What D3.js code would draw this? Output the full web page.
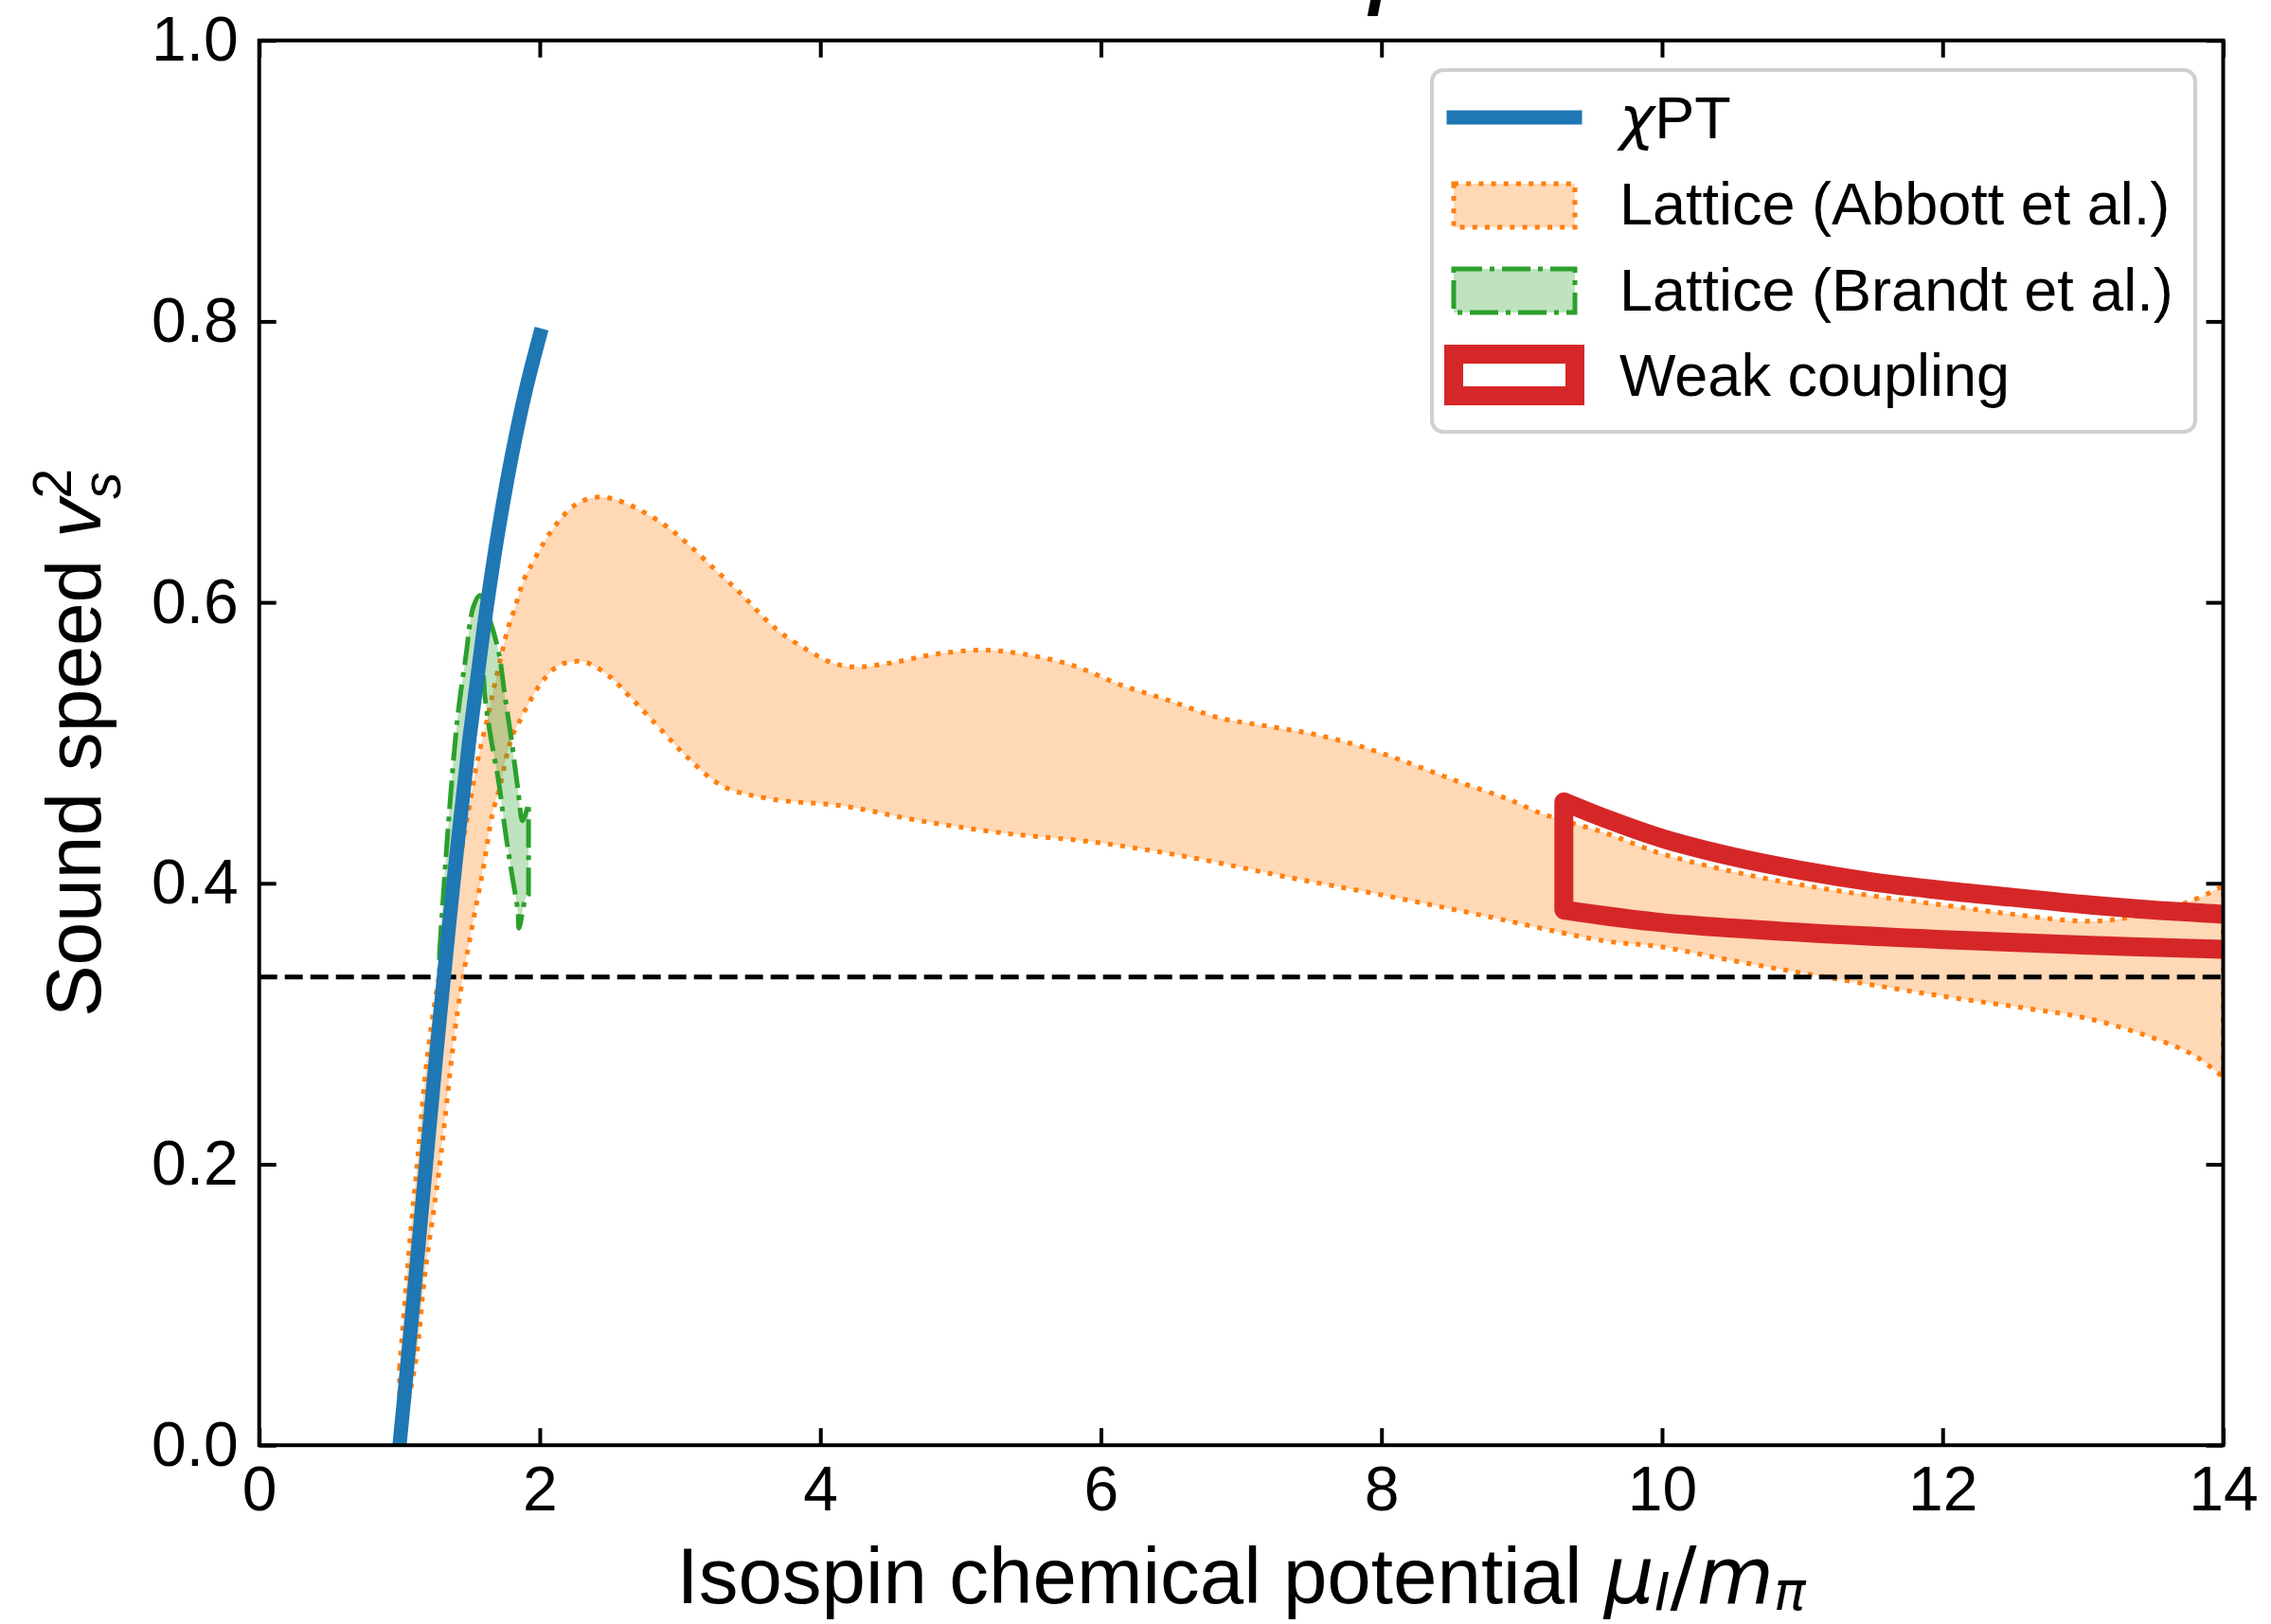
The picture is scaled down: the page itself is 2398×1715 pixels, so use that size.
<!DOCTYPE html>
<html>
<head>
<meta charset="utf-8">
<script src="https://cdn.jsdelivr.net/npm/d3@7"></script>
<style>
  html, body { margin: 0; padding: 0; background: #ffffff; }
  svg { display: block; }
  text { font-family: "Liberation Sans", Arial, Helvetica, sans-serif; fill: #000; }
</style>
</head>
<body>
<svg id="chart" width="2398" height="1715"></svg>
<script>
// ---------------- DATA ----------------
const xTickValues = [0, 2, 4, 6, 8, 10, 12, 14];
const xTickLabels = ["0", "2", "4", "6", "8", "10", "12", "14"];
const yTickValues = [0, 0.2, 0.4, 0.6, 0.8, 1.0];
const yTickLabels = ["0.0", "0.2", "0.4", "0.6", "0.8", "1.0"];

const legendLabels = ["χPT", "Lattice (Abbott et al.)", "Lattice (Brandt et al.)", "Weak coupling"];

// chiral perturbation theory curve
const chiPT_x = [1.0, 1.05, 1.1, 1.15, 1.2, 1.25, 1.3, 1.4, 1.5, 1.6, 1.7, 1.8, 1.9, 2.0];
const chiPT_y = [0.0, 0.051, 0.104, 0.158, 0.212, 0.265, 0.317, 0.415, 0.504, 0.581, 0.648, 0.704, 0.751, 0.790];

// Lattice (Abbott et al.) band
const abbottUpper_x = [1.0, 1.01, 1.077, 1.122, 1.201, 1.30, 1.40, 1.493, 1.538, 1.58, 1.628, 1.673, 1.73, 1.775, 1.819, 1.886, 1.932, 2.07, 2.2, 2.3, 2.436, 2.6, 2.877, 3.05, 3.264, 3.436, 3.608, 3.737, 3.909, 4.082, 4.253, 4.511, 4.813, 5.157, 5.459, 5.803, 6.147, 6.491, 6.835, 7.18, 7.524, 7.868, 8.212, 8.557, 8.9, 9.16, 9.59, 10.0, 10.66, 11.3, 12.04, 12.5, 13.04, 13.4, 13.76, 14.0];
const abbottUpper_y = [0.055, 0.067, 0.149, 0.196, 0.279, 0.345, 0.400, 0.452, 0.478, 0.498, 0.518, 0.539, 0.564, 0.582, 0.595, 0.616, 0.625, 0.649, 0.665, 0.672, 0.675, 0.671, 0.656, 0.642, 0.622, 0.606, 0.588, 0.577, 0.566, 0.557, 0.554, 0.557, 0.563, 0.566, 0.563, 0.555, 0.541, 0.530, 0.518, 0.512, 0.506, 0.497, 0.485, 0.472, 0.460, 0.449, 0.436, 0.421, 0.405, 0.394, 0.384, 0.378, 0.373, 0.377, 0.387, 0.398];
const abbottLower_x = [1.0, 1.06, 1.122, 1.178, 1.28, 1.414, 1.51, 1.594, 1.662, 1.716, 1.797, 1.864, 1.932, 2.02, 2.135, 2.247, 2.337, 2.5, 2.65, 2.877, 3.049, 3.307, 3.651, 4.167, 4.684, 5.285, 5.976, 6.663, 7.35, 8.039, 8.727, 9.59, 9.98, 10.5, 11.18, 12.04, 12.6, 13.07, 13.58, 13.8, 14.0];
const abbottLower_y = [0.0, 0.03, 0.064, 0.119, 0.194, 0.309, 0.365, 0.409, 0.449, 0.469, 0.503, 0.517, 0.530, 0.544, 0.555, 0.558, 0.557, 0.547, 0.532, 0.508, 0.490, 0.469, 0.460, 0.455, 0.445, 0.436, 0.429, 0.418, 0.404, 0.391, 0.377, 0.359, 0.355, 0.345, 0.333, 0.319, 0.311, 0.303, 0.287, 0.277, 0.262];

// Lattice (Brandt et al.) band
const brandtUpper_x = [1.285, 1.345, 1.412, 1.473, 1.527, 1.574, 1.649, 1.709, 1.750, 1.797, 1.844, 1.878, 1.92];
const brandtUpper_y = [0.350, 0.4375, 0.516, 0.5615, 0.597, 0.605, 0.586, 0.5635, 0.5345, 0.503, 0.467, 0.4445, 0.457];
const brandtLower_x = [1.285, 1.35, 1.42, 1.48, 1.53, 1.565, 1.59, 1.61, 1.649, 1.709, 1.750, 1.797, 1.844, 1.852, 1.898, 1.92];
const brandtLower_y = [0.300, 0.365, 0.435, 0.490, 0.540, 0.562, 0.555, 0.532, 0.505, 0.471, 0.440, 0.409, 0.380, 0.368, 0.389, 0.392];

// Weak coupling band
const weakUpper_x = [9.3, 9.6, 10.0, 10.5, 11.0, 11.5, 12.0, 12.5, 13.0, 13.5, 14.0, 14.5];
const weakUpper_y = [0.458, 0.446, 0.432, 0.419, 0.409, 0.401, 0.395, 0.390, 0.385, 0.381, 0.378, 0.375];
const weakLower_x = [9.3, 10.0, 11.0, 12.0, 13.0, 14.0, 14.5];
const weakLower_y = [0.381, 0.372, 0.365, 0.360, 0.356, 0.353, 0.352];

const conformalValue = 1 / 3;

// ---------------- LAYOUT ----------------
(function () {
const svg = d3.select("#chart");
const W = 2398, H = 1715;
const pL = 273.7, pR = 2347.5, pT = 42.7, pB = 1526.2;

svg.append("rect").attr("width", W).attr("height", H).attr("fill", "#ffffff");

const x = d3.scaleLinear().domain([0, 14]).range([pL, pR]);
const y = d3.scaleLinear().domain([0, 1]).range([pB, pT]);

const C_BLUE = "#1f77b4", C_ORANGE = "#ff7f0e", C_GREEN = "#2ca02c", C_RED = "#d62728";
const MATH = "'DejaVu Sans', Verdana, sans-serif";

svg.append("clipPath").attr("id", "plotclip")
  .append("rect").attr("x", pL).attr("y", pT).attr("width", pR - pL).attr("height", pB - pT);

const plot = svg.append("g").attr("clip-path", "url(#plotclip)");

const zip = (xs, ys) => xs.map((v, i) => [v, ys[i]]);
const lineGen = d3.line().x(d => x(d[0])).y(d => y(d[1])).curve(d3.curveCatmullRom.alpha(0.5));
function bandPath(ux, uy, lx, ly) {
  const up = lineGen(zip(ux, uy));
  const lo = lineGen(zip(lx, ly).reverse());
  return up + "L" + lo.slice(1) + "Z";
}

// Abbott band
plot.append("path")
  .attr("d", bandPath(abbottUpper_x, abbottUpper_y, abbottLower_x, abbottLower_y))
  .attr("fill", C_ORANGE).attr("fill-opacity", 0.3)
  .attr("stroke", C_ORANGE).attr("stroke-width", 5)
  .attr("stroke-dasharray", "5 8.2");

// Brandt band
plot.append("path")
  .attr("d", bandPath(brandtUpper_x, brandtUpper_y, brandtLower_x, brandtLower_y))
  .attr("fill", C_GREEN).attr("fill-opacity", 0.3)
  .attr("stroke", C_GREEN).attr("stroke-width", 5)
  .attr("stroke-dasharray", "30 8 5 8");

// conformal limit line
plot.append("line")
  .attr("x1", x(0)).attr("x2", x(14))
  .attr("y1", y(conformalValue)).attr("y2", y(conformalValue))
  .attr("stroke", "#000").attr("stroke-width", 5)
  .attr("stroke-dasharray", "19 8");

// chiPT line
plot.append("path")
  .attr("d", lineGen(zip(chiPT_x, chiPT_y)))
  .attr("fill", "none").attr("stroke", C_BLUE).attr("stroke-width", 15)
  .attr("stroke-linecap", "square");

// Weak coupling band
plot.append("path")
  .attr("d", bandPath(weakUpper_x, weakUpper_y, weakLower_x, weakLower_y))
  .attr("fill", "none")
  .attr("stroke", C_RED).attr("stroke-width", 20)
  .attr("stroke-linejoin", "round");

// ---------------- AXES ----------------
const TICK = 18;
const fmtX = d => xTickLabels[xTickValues.indexOf(d)];
const fmtY = d => yTickLabels[yTickValues.indexOf(d)];

function styleAxis(g) {
  g.select(".domain").remove();
  g.selectAll(".tick line").attr("stroke", "#000").attr("stroke-width", 4);
  g.selectAll(".tick text").attr("font-size", 66).attr("font-family", "Liberation Sans, Arial, sans-serif").attr("fill", "#000");
}

svg.append("g").attr("transform", `translate(0,${pB})`)
  .call(d3.axisBottom(x).tickValues(xTickValues).tickFormat(fmtX).tickSize(-TICK).tickPadding(22))
  .call(styleAxis);
svg.append("g").attr("transform", `translate(0,${pT})`)
  .call(d3.axisTop(x).tickValues(xTickValues).tickFormat("").tickSize(-TICK))
  .call(styleAxis);
svg.append("g").attr("transform", `translate(${pL},0)`)
  .call(d3.axisLeft(y).tickValues(yTickValues).tickFormat(fmtY).tickSize(-TICK).tickPadding(22))
  .call(styleAxis);
svg.append("g").attr("transform", `translate(${pR},0)`)
  .call(d3.axisRight(y).tickValues(yTickValues).tickFormat("").tickSize(-TICK))
  .call(styleAxis);

// spines
svg.append("rect")
  .attr("x", pL).attr("y", pT).attr("width", pR - pL).attr("height", pB - pT)
  .attr("fill", "none").attr("stroke", "#000").attr("stroke-width", 4);

// axis labels
const xl = svg.append("text")
  .attr("x", (pL + pR) / 2).attr("y", 1693)
  .attr("text-anchor", "middle").attr("font-size", 83.5);
xl.append("tspan").text("Isospin chemical potential ");
xl.append("tspan").attr("font-family", MATH).attr("font-style", "italic").text("μ");
xl.append("tspan").attr("font-family", MATH).attr("font-style", "italic").attr("font-size", 56).attr("dy", 7).text("I");
xl.append("tspan").attr("font-family", MATH).attr("dy", -7).text("/");
xl.append("tspan").attr("font-family", MATH).attr("font-style", "italic").text("m");
xl.append("tspan").attr("font-family", MATH).attr("font-style", "italic").attr("font-size", 56).attr("dy", 7).text("π");

const yl = svg.append("text")
  .attr("transform", `translate(106,${(pT + pB) / 2}) rotate(-90)`)
  .attr("text-anchor", "middle").attr("font-size", 82);
yl.append("tspan").text("Sound speed ");
yl.append("tspan").attr("font-style", "italic").text("v");
yl.append("tspan").attr("font-style", "italic").attr("font-size", 57).attr("dy", 21).text("s");
yl.append("tspan").attr("font-size", 57).attr("dx", -28).attr("dy", -52).text("2");

// clipped title fragment at the very top
svg.append("text")
  .attr("x", 1453).attr("y", 17)
  .attr("text-anchor", "middle")
  .attr("font-family", "Liberation Serif, 'DejaVu Serif', serif")
  .attr("font-style", "italic").attr("font-weight", "bold")
  .attr("font-size", 76).text("I");

// ---------------- LEGEND ----------------
const lg = svg.append("g");
lg.append("rect")
  .attr("x", 1512).attr("y", 74).attr("width", 806).attr("height", 382)
  .attr("rx", 12).attr("ry", 12)
  .attr("fill", "#ffffff").attr("fill-opacity", 0.8)
  .attr("stroke", "#d0d0d0").attr("stroke-width", 4);

const hx0 = 1535, hx1 = 1663, rowBase = [146, 237, 328, 418];
lg.append("line").attr("x1", hx0).attr("x2", hx1)
  .attr("y1", rowBase[0] - 22).attr("y2", rowBase[0] - 22)
  .attr("stroke", C_BLUE).attr("stroke-width", 15).attr("stroke-linecap", "square");
lg.append("rect").attr("x", hx0).attr("y", rowBase[1] - 43).attr("width", hx1 - hx0).attr("height", 46)
  .attr("fill", C_ORANGE).attr("fill-opacity", 0.3)
  .attr("stroke", C_ORANGE).attr("stroke-width", 5).attr("stroke-dasharray", "5 8.2");
lg.append("rect").attr("x", hx0).attr("y", rowBase[2] - 44).attr("width", hx1 - hx0).attr("height", 46)
  .attr("fill", C_GREEN).attr("fill-opacity", 0.3)
  .attr("stroke", C_GREEN).attr("stroke-width", 5).attr("stroke-dasharray", "30 8 5 8");
lg.append("rect").attr("x", hx0).attr("y", rowBase[3] - 44).attr("width", hx1 - hx0).attr("height", 44)
  .attr("fill", "none")
  .attr("stroke", C_RED).attr("stroke-width", 20);

legendLabels.forEach((lab, i) => {
  const t = lg.append("text").attr("x", 1710).attr("y", rowBase[i]).attr("font-size", 63);
  if (lab.startsWith("χ")) {
    t.append("tspan").attr("font-family", MATH).attr("font-style", "italic").text("χ");
    t.append("tspan").text(lab.slice(1));
  } else {
    t.text(lab);
  }
});
})();
</script>
</body>
</html>
